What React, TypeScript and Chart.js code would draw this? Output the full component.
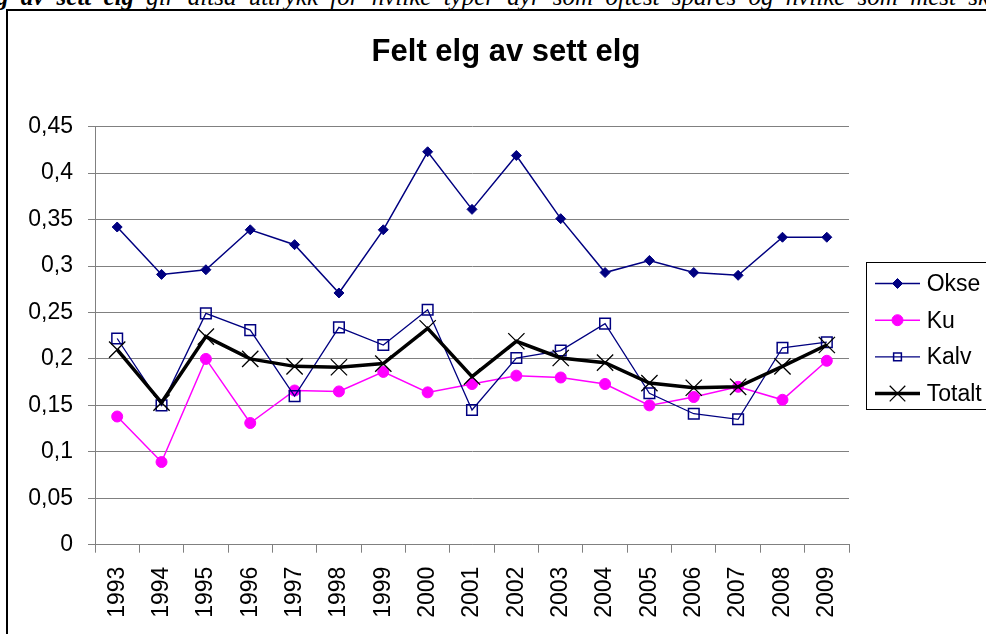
import React, { useEffect, useRef } from 'react';
import { Chart, registerables } from 'chart.js';
import { drawPoint } from 'chart.js/helpers';

Chart.register(...registerables);

const YEARS = ['1993', '1994', '1995', '1996', '1997', '1998', '1999', '2000', '2001', '2002', '2003', '2004', '2005', '2006', '2007', '2008', '2009'];
const OKSE = [0.342, 0.291, 0.296, 0.339, 0.323, 0.271, 0.339, 0.423, 0.361, 0.419, 0.351, 0.293, 0.306, 0.293, 0.290, 0.331, 0.331];
const KU = [0.138, 0.089, 0.200, 0.131, 0.166, 0.165, 0.186, 0.164, 0.173, 0.182, 0.180, 0.173, 0.150, 0.159, 0.170, 0.156, 0.198];
const KALV = [0.222, 0.150, 0.249, 0.231, 0.160, 0.234, 0.215, 0.253, 0.145, 0.201, 0.209, 0.238, 0.163, 0.141, 0.135, 0.212, 0.218];
const TOTALT = [0.210, 0.153, 0.224, 0.200, 0.192, 0.191, 0.195, 0.233, 0.181, 0.219, 0.201, 0.196, 0.174, 0.169, 0.170, 0.192, 0.215];
const SERIES_NAMES = ['Okse', 'Ku', 'Kalv', 'Totalt'];
const Y_TICK_LABELS = ['0', '0,05', '0,1', '0,15', '0,2', '0,25', '0,3', '0,35', '0,4', '0,45'];
const TITLE = 'Felt elg av sett elg';

const FONT = '"Liberation Sans", Arial, sans-serif';
const NAVY = '#000080';
const MAGENTA = '#FF00FF';
const GRID = '#808080';

const legendMarkerRadius = [5, 5.5, 5.5, 11];

const boxLegend = {
  id: 'boxLegend',
  afterDraw(chart: any) {
    const ctx = chart.ctx;
    const x0 = 858;
    const y0 = 251.5;
    const h = 147;
    ctx.save();
    ctx.strokeStyle = '#000';
    ctx.lineWidth = 1;
    ctx.strokeRect(x0 + 0.5, y0, 300, h);
    chart.data.datasets.forEach((ds: any, i: number) => {
      const y = 272.5 + i * 36.7;
      ctx.save();
      ctx.strokeStyle = ds.borderColor;
      ctx.lineWidth = ds.borderWidth;
      ctx.beginPath();
      ctx.moveTo(867, y);
      ctx.lineTo(912, y);
      ctx.stroke();
      ctx.fillStyle = ds.pointBackgroundColor;
      ctx.strokeStyle = ds.pointBorderColor;
      ctx.lineWidth = ds.pointBorderWidth;
      drawPoint(ctx, {
        pointStyle: ds.pointStyle,
        rotation: 0,
        borderWidth: ds.pointBorderWidth,
        radius: legendMarkerRadius[i],
      } as any, 889.5, y);
      ctx.restore();
      ctx.fillStyle = '#000';
      ctx.font = `23px ${FONT}`;
      ctx.textBaseline = 'middle';
      ctx.textAlign = 'left';
      ctx.fillText(ds.label, 918.7, y + 1);
    });
    ctx.restore();
  },
};

export default function App() {
  const canvasRef = useRef<HTMLCanvasElement | null>(null);

  useEffect(() => {
    const canvas = canvasRef.current;
    if (!canvas) return;
    const chart = new Chart(canvas, {
      type: 'line',
      data: {
        labels: YEARS,
        datasets: [
          {
            label: SERIES_NAMES[0],
            data: OKSE,
            borderColor: NAVY,
            borderWidth: 1.5,
            pointStyle: 'rectRot',
            pointRadius: 5,
            pointBackgroundColor: NAVY,
            pointBorderColor: NAVY,
            pointBorderWidth: 1,
            tension: 0,
            order: 3,
          },
          {
            label: SERIES_NAMES[1],
            data: KU,
            borderColor: MAGENTA,
            borderWidth: 1.5,
            pointStyle: 'circle',
            pointRadius: 5.5,
            pointBackgroundColor: MAGENTA,
            pointBorderColor: MAGENTA,
            pointBorderWidth: 1,
            tension: 0,
            order: 2,
          },
          {
            label: SERIES_NAMES[2],
            data: KALV,
            borderColor: NAVY,
            borderWidth: 1.3,
            pointStyle: 'rect',
            pointRadius: 7.5,
            pointBackgroundColor: 'rgba(255,255,255,0)',
            pointBorderColor: NAVY,
            pointBorderWidth: 1.5,
            tension: 0,
            order: 1,
          },
          {
            label: SERIES_NAMES[3],
            data: TOTALT,
            borderColor: '#000',
            borderWidth: 3.5,
            pointStyle: 'crossRot',
            pointRadius: 11.5,
            pointBackgroundColor: '#000',
            pointBorderColor: '#000',
            pointBorderWidth: 1.3,
            tension: 0,
            order: 0,
          },
        ],
      },
      options: {
        animation: false,
        responsive: false,
        maintainAspectRatio: false,
        layout: { padding: 0 },
        plugins: {
          legend: { display: false },
          tooltip: { enabled: false },
          title: {
            display: true,
            text: TITLE,
            color: '#000',
            font: { family: FONT, size: 31, weight: 'bold', lineHeight: 1.2 },
            padding: { top: 22.4, bottom: 56.1 },
          },
        },
        scales: {
          x: {
            type: 'category',
            offset: true,
            grid: {
              display: true,
              offset: true,
              drawOnChartArea: false,
              drawTicks: true,
              tickLength: 8,
              color: GRID,
              lineWidth: 1,
            },
            border: { display: true, color: GRID, width: 1 },
            ticks: {
              autoSkip: false,
              maxRotation: 90,
              minRotation: 90,
              padding: 14,
              color: '#000',
              font: { family: FONT, size: 23 },
            },
            afterFit: (s: any) => {
              s.height = 96.3;
            },
          },
          y: {
            type: 'linear',
            min: 0,
            max: 0.45,
            grid: {
              color: GRID,
              lineWidth: 1,
              drawTicks: true,
              tickLength: 7,
            },
            border: { display: true, color: GRID, width: 1 },
            ticks: {
              stepSize: 0.05,
              padding: 15,
              color: '#000',
              font: { family: FONT, size: 23 },
              callback: (v: any, i: number) => Y_TICK_LABELS[i] ?? String(v).replace('.', ','),
            },
            afterFit: (s: any) => {
              s.width = 87;
            },
          },
          yR: {
            type: 'linear',
            position: 'right',
            display: true,
            grid: { display: false, drawTicks: false },
            border: { display: false },
            ticks: { display: false },
            afterFit: (s: any) => {
              s.width = 155;
            },
          },
        },
      },
      plugins: [boxLegend],
    } as any);
    return () => chart.destroy();
  }, []);

  return (
    <div
      style={{
        position: 'fixed',
        left: 0,
        top: 0,
        width: 986,
        height: 634,
        overflow: 'hidden',
        background: '#fff',
      }}
    >
      <div
        style={{
          position: 'absolute',
          left: -4,
          top: -16,
          whiteSpace: 'nowrap',
          fontFamily: '"Liberation Serif", "Times New Roman", serif',
          fontStyle: 'italic',
          fontSize: 25,
          wordSpacing: 6,
          lineHeight: 1,
          color: '#000',
        }}
      >
        <b>g av sett elg</b> gir altså uttrykk for hvilke typer dyr som oftest spares og hvilke som mest skytes.
      </div>
      <div
        style={{
          position: 'absolute',
          left: 6,
          top: 9,
          borderLeft: '2px solid #000',
          borderTop: '2px solid #000',
          width: 996,
          height: 630,
        }}
      >
        <canvas ref={canvasRef} width={996} height={630} style={{ display: 'block', width: 996, height: 630 }} />
      </div>
    </div>
  );
}
